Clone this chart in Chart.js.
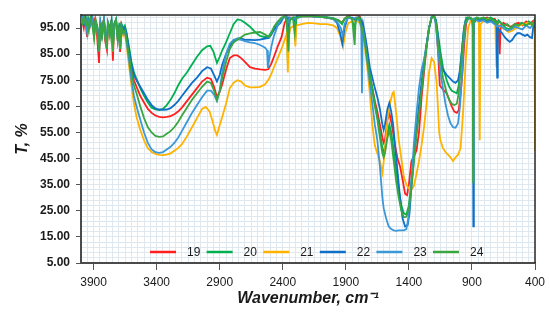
<!DOCTYPE html>
<html lang="en">
<head>
<meta charset="UTF-8">
<title>IR spectra 19-24</title>
<script src="https://cdn.jsdelivr.net/npm/chart.js"></script>
<style>
    html, body { margin: 0; padding: 0; background: #ffffff; }
    #wrap { width: 550px; height: 320px; }
</style>
</head>
<body>
<div id="wrap"><canvas id="ir" width="550" height="320"></canvas></div>
<script>
// sample labels and colours
const labels = ['19', '20', '21', '22', '23', '24'];
const colors = ['#ff1f1f', '#00b050', '#ffb300', '#0f6fc6', '#3a98d8', '#3aa640'];

// x tick labels (wavenumber, cm-1) and y tick labels (T, %)
const xTickLabels = [3900, 3400, 2900, 2400, 1900, 1400, 900, 400];
const yTickLabels = [5, 15, 25, 35, 45, 55, 65, 75, 85, 95];

// spectra: [wavenumber, T %]
const s19 = [[4000,99],[3990,97.5],[3978,95],[3968,99],[3952,91.6],[3944,98.5],[3930,96],[3918,99.5],[3905,95.5],[3892,98],[3875,93.5],[3857,81.6],[3849,96],[3836,92],[3822,98],[3808,90],[3794,86.5],[3784,97],[3772,93],[3760,98],[3747,82.5],[3738,96],[3724,98],[3710,91],[3698,96],[3690,85.8],[3680,96],[3668,94],[3655,95],[3640,92],[3620,85],[3600,79],[3580,75],[3560,72.5],[3530,69],[3500,66.5],[3470,64],[3440,62.5],[3410,61.5],[3380,61],[3350,60.8],[3320,61],[3290,61.3],[3260,62],[3230,63],[3200,64.5],[3160,67],[3120,69.5],[3080,72],[3040,74.5],[3000,76],[2970,75.5],[2945,72.5],[2922,68.6],[2900,70.5],[2880,73.5],[2850,79],[2820,83.5],[2790,84.5],[2760,84.5],[2730,83.5],[2700,82],[2660,80],[2620,79.5],[2580,79.2],[2540,79],[2515,79.2],[2490,81.5],[2470,84],[2440,88],[2410,91.5],[2385,97],[2368,98.5],[2358,94],[2348,99],[2320,99],[2300,97.5],[2290,99.5],[2250,99.5],[2200,99.6],[2150,99.4],[2100,99.3],[2050,99],[2000,98.5],[1960,98],[1930,97],[1910,98.5],[1880,99.8],[1850,100],[1820,100],[1790,99.5],[1770,97],[1750,92],[1730,85],[1710,77],[1690,72],[1670,67],[1650,63],[1630,58],[1610,53],[1600,51],[1590,52],[1570,60],[1555,62.5],[1540,59],[1525,55],[1510,50],[1490,45],[1470,42],[1450,37],[1430,31.5],[1415,31],[1400,35],[1380,44],[1360,46],[1340,48],[1320,55],[1300,68],[1280,78],[1260,88],[1240,95],[1220,99],[1200,99.5],[1185,97],[1170,87],[1155,73],[1130,71.5],[1100,70],[1080,67.5],[1060,65],[1040,63],[1020,62.5],[1005,63.5],[990,70],[975,78],[960,90],[945,97],[930,99],[910,98.5],[895,97],[890,93],[885,97.5],[860,98.5],[840,98],[810,98.5],[780,99],[750,98],[720,98.5],[700,97],[690,95],[680,85],[672,96],[650,97],[620,96],[590,95.5],[560,96.5],[530,97],[500,96],[470,97.5],[440,96.5],[420,97.5],[405,98],[400,97]];

const s20 = [[4000,98],[3988,99.5],[3975,97],[3962,99],[3950,95],[3938,98.5],[3925,96.5],[3910,99],[3896,94],[3884,98],[3870,95.5],[3856,90],[3846,97.5],[3832,94],[3818,98.5],[3804,92],[3795,89],[3786,97],[3770,94.5],[3758,98],[3747,88],[3738,96.5],[3722,98.5],[3708,92.5],[3695,97],[3688,90],[3678,96.5],[3665,95],[3652,96],[3640,93.5],[3620,88],[3600,82],[3580,78],[3560,75.5],[3530,72],[3500,69],[3470,66.5],[3440,64.5],[3410,63.8],[3380,63.6],[3350,64],[3320,65.5],[3290,67.5],[3260,70],[3230,73],[3200,75.5],[3160,78],[3120,81],[3080,84],[3040,86.5],[3000,88],[2975,88.2],[2950,86],[2922,81.6],[2900,84],[2880,86.5],[2850,89.5],[2820,93],[2790,96.5],[2760,98.3],[2730,98],[2700,97],[2660,95.5],[2620,93.5],[2580,92],[2540,91.5],[2510,92],[2490,93.5],[2470,95],[2440,97],[2410,98.5],[2380,99.5],[2368,99],[2360,81.6],[2352,96],[2340,98.5],[2310,99],[2300,91],[2292,99],[2250,99.6],[2200,99.7],[2150,99.5],[2100,99.4],[2050,99.2],[2000,98.8],[1960,98],[1930,96.5],[1910,98.5],[1880,99.5],[1850,98.5],[1830,95],[1815,99],[1790,99],[1770,96],[1750,91],[1730,84],[1710,77],[1690,72],[1670,66],[1650,61],[1630,55],[1610,49],[1600,47.5],[1590,49],[1570,55],[1555,58],[1540,55],[1520,48],[1500,40],[1480,33],[1460,27],[1440,24],[1420,23.5],[1400,27],[1380,36],[1360,46],[1340,56],[1320,64],[1300,72],[1280,80],[1260,88],[1240,95],[1220,99],[1200,99.5],[1185,98],[1170,93],[1150,86],[1130,80],[1100,75],[1080,72.5],[1060,71],[1040,70.5],[1020,70],[1005,73],[990,81],[975,89],[960,96],[945,99],[910,99],[895,97.5],[890,94],[885,98.5],[860,99],[840,98.5],[810,99],[780,98.5],[750,99],[720,98],[700,97],[690,98],[660,96.5],[630,95],[600,94.5],[570,96],[540,95.5],[510,97],[480,96],[450,97.5],[420,96.5],[405,97],[400,96]];

const s21 = [[4000,98.5],[3988,97],[3975,99],[3962,96],[3950,98.5],[3938,95],[3925,98],[3910,96.5],[3896,92],[3884,97.5],[3870,94],[3856,87.5],[3846,96.5],[3832,93],[3818,97.5],[3804,91],[3795,88],[3786,96],[3770,93],[3758,97],[3747,86],[3738,95],[3722,97.5],[3708,90],[3695,95.5],[3688,87],[3678,94],[3665,92],[3652,93],[3640,89],[3620,81],[3600,73],[3580,66],[3560,61],[3530,56],[3500,52],[3470,49],[3440,47.5],[3410,46.8],[3380,46.4],[3350,46.3],[3320,46.5],[3290,47],[3260,48],[3230,49],[3200,50.5],[3160,53.5],[3120,57],[3080,60.5],[3040,64],[3010,64.8],[2980,63],[2955,59],[2935,55.5],[2922,54],[2905,57],[2882,60.6],[2850,66],[2820,72],[2790,74],[2760,75],[2730,74.5],[2700,73],[2660,72.3],[2620,72.3],[2580,72.5],[2540,73.5],[2510,75.5],[2490,77.5],[2470,80],[2440,83.5],[2410,87],[2385,90.5],[2368,93],[2360,78],[2352,92],[2340,95],[2310,96],[2300,88],[2292,96],[2250,96.5],[2200,97],[2150,96.8],[2100,96.5],[2050,96.5],[2000,96],[1970,95],[1945,92],[1922,87.8],[1905,93],[1880,97],[1850,97.5],[1820,98],[1790,97],[1770,93],[1750,88],[1730,80],[1710,70],[1690,58],[1670,50],[1650,47],[1630,44],[1610,39.5],[1590,48],[1570,60],[1550,66],[1530,70],[1520,70.5],[1500,62],[1480,52],[1460,45],[1440,38],[1420,35],[1400,33.5],[1380,33],[1360,34.5],[1340,39],[1320,44],[1300,50],[1280,57],[1260,66],[1240,78],[1220,83.5],[1200,82],[1180,74],[1170,65],[1160,55],[1150,52],[1130,49],[1110,47.5],[1090,46.5],[1070,45.5],[1050,44],[1030,45.5],[1010,46.5],[990,49],[970,63],[950,82],[930,95],[910,98],[895,97],[885,98],[860,98],[845,97],[838,52],[832,96.5],[800,98],[770,98.5],[740,97.5],[715,96.5],[706,80],[698,96],[670,95.5],[640,94.5],[610,93.5],[580,94],[550,95],[520,96],[490,96.5],[460,97],[430,96.5],[410,97],[403,95],[400,48]];

const s22 = [[4000,98],[3988,99],[3975,96.5],[3962,98.5],[3950,94],[3938,98],[3925,97],[3910,99],[3896,93],[3884,97.5],[3870,95],[3856,88],[3846,97],[3832,93.5],[3818,98],[3804,91.5],[3795,90],[3786,97],[3770,94],[3758,97.5],[3747,88],[3738,96],[3722,98],[3708,91],[3695,96],[3688,89],[3678,96],[3665,94.5],[3652,95],[3640,93],[3620,87],[3600,81],[3580,77],[3560,75],[3530,72.5],[3500,70],[3470,67.5],[3440,65.5],[3410,64.2],[3380,63.8],[3350,63.7],[3320,63.8],[3290,64.3],[3260,65.5],[3230,67],[3200,69],[3160,71.5],[3120,74],[3080,76],[3040,78.5],[3000,80],[2970,79.5],[2945,77],[2922,74.5],[2900,77],[2880,81],[2850,85],[2820,88],[2790,90],[2760,91],[2730,91],[2700,90.5],[2660,90.5],[2620,90.4],[2580,90.6],[2540,91],[2510,91.2],[2490,92.5],[2470,94.3],[2440,96],[2420,96.9],[2395,99],[2370,99.5],[2360,95],[2350,99],[2300,98],[2290,99.5],[2250,99.6],[2200,99.7],[2150,99.5],[2100,99.3],[2050,99],[2000,98.5],[1970,97],[1945,93],[1928,89],[1910,95],[1885,99],[1850,99],[1820,98],[1800,99],[1780,97],[1772,95],[1765,97],[1750,93],[1730,87],[1710,80],[1690,76],[1670,72],[1650,68.5],[1630,64],[1610,58],[1600,56],[1590,58],[1570,64],[1555,66.3],[1540,63],[1525,58],[1510,50],[1490,40],[1470,30],[1450,22],[1430,19],[1410,19.5],[1395,24],[1380,34],[1360,45],[1340,55],[1320,65],[1300,74],[1280,82],[1260,89],[1240,95],[1220,99],[1200,99.5],[1185,98],[1170,92],[1150,82],[1130,79],[1100,77],[1070,75.5],[1050,74.5],[1030,74],[1010,75],[995,79],[980,86],[965,94],[950,98],[920,99],[900,98],[893,97],[889,19],[885,97],[860,98.5],[840,98],[810,98.5],[780,97.5],[750,98],[720,97],[705,96],[700,76],[695,95],[680,94],[660,93],[640,91.5],[620,90.5],[600,89.7],[580,90.5],[560,92],[540,93],[520,93],[500,92.5],[480,92],[460,92.5],[440,91.5],[424,91.2],[415,95],[405,97],[400,96]];

const s23 = [[4000,97.5],[3988,99],[3975,97],[3962,98],[3950,93],[3938,97.5],[3925,96],[3910,98.5],[3896,92],[3884,97],[3870,94.5],[3856,86],[3846,96.5],[3832,92.5],[3818,97.5],[3804,90.5],[3795,88.5],[3786,96.5],[3770,93],[3758,97],[3747,87],[3738,95.5],[3722,97.5],[3708,90],[3695,95],[3688,88],[3678,95],[3665,93],[3652,93.5],[3640,90],[3620,83],[3600,75],[3580,69],[3560,65],[3530,60],[3500,55],[3470,51],[3440,48.5],[3410,47.5],[3380,47.2],[3350,47.5],[3320,48.5],[3290,49.5],[3260,51],[3230,53],[3200,55.5],[3160,59],[3120,62.5],[3080,65.5],[3040,68.5],[3000,71],[2970,71],[2945,69.5],[2922,67],[2900,71],[2880,78],[2850,85],[2820,89],[2790,90.5],[2760,90.8],[2730,90.5],[2700,90],[2660,89.5],[2620,89.2],[2580,88.5],[2540,87.5],[2525,86.5],[2518,79.7],[2505,84],[2490,88],[2470,92],[2440,96],[2410,98.5],[2380,99.5],[2360,97],[2345,99],[2300,98.5],[2250,99.5],[2200,99.6],[2150,99.4],[2100,99.3],[2050,99],[2000,98.5],[1970,97.5],[1940,95],[1925,92],[1910,96.5],[1880,99],[1850,98.5],[1820,99],[1795,98],[1778,96],[1772,70],[1766,95],[1750,90],[1730,82],[1710,74],[1690,66],[1670,58],[1650,52],[1630,42],[1610,30],[1600,26],[1580,22],[1560,19],[1540,18],[1520,17.5],[1500,17.3],[1480,17.5],[1460,17.5],[1440,17.5],[1420,18],[1405,22],[1390,30],[1375,40],[1360,51],[1340,62],[1320,72],[1300,79],[1280,83],[1260,88],[1240,95],[1220,99.5],[1200,99.5],[1185,96],[1170,87],[1150,78],[1130,72],[1110,66],[1090,61.5],[1070,58.5],[1050,57],[1030,56.8],[1010,58.5],[995,65],[980,76],[965,90],[950,97],[920,99],[895,98],[890,94],[885,98.5],[860,98],[840,97.5],[810,98],[780,97],[750,97.5],[720,96.5],[700,95.5],[680,96],[650,95],[620,94],[590,94.5],[560,95.5],[530,95],[500,94.5],[470,96],[440,95],[420,96],[405,97],[400,95]];

const s24 = [[4000,99],[3988,97],[3975,99.5],[3962,96],[3950,98],[3938,94],[3925,99],[3910,96],[3896,91],[3884,98],[3870,94],[3856,86],[3846,97],[3832,92],[3818,98],[3804,90],[3795,87],[3786,97.5],[3770,92],[3758,98],[3747,86],[3738,96.5],[3722,98],[3708,90],[3695,96],[3688,87],[3678,95.5],[3665,93],[3652,94],[3640,91],[3620,85],[3600,78],[3580,73],[3560,70],[3530,65],[3500,60.5],[3470,57],[3440,55],[3410,53.7],[3380,53.3],[3350,53.5],[3320,54.5],[3290,55.5],[3260,57],[3230,59],[3200,61.5],[3160,64.5],[3120,67.5],[3080,70],[3040,72.5],[3000,74.5],[2970,74],[2945,71],[2922,67.5],[2900,71],[2880,76],[2850,82],[2820,87],[2790,89.5],[2760,90.5],[2730,91.5],[2700,92.5],[2660,93],[2620,93.3],[2580,93.5],[2540,92.5],[2510,91.5],[2490,93],[2470,95.5],[2440,97.5],[2410,99],[2380,99.5],[2365,96],[2355,86],[2345,98],[2320,99],[2305,93],[2295,99],[2250,99.5],[2200,99.6],[2150,99.5],[2100,99.3],[2050,99],[2000,98.6],[1960,98],[1930,97],[1910,98.5],[1880,99.5],[1850,98.5],[1830,88.5],[1822,98.5],[1800,99],[1790,98],[1770,95],[1750,90],[1730,83],[1710,76],[1690,71],[1670,65],[1650,60],[1630,53],[1610,47],[1600,45.5],[1590,47],[1570,53],[1555,56],[1540,52],[1520,44],[1500,36],[1480,30],[1460,25],[1440,22.5],[1420,22.7],[1400,26],[1380,34],[1360,44],[1340,54],[1320,62],[1300,71],[1280,80],[1260,88],[1240,95],[1220,99],[1200,100],[1185,97],[1170,90],[1150,83],[1130,76],[1100,70],[1080,67.5],[1060,66],[1040,65.5],[1020,66],[1005,70],[990,79],[975,87],[960,95],[945,98],[920,99],[900,98.5],[894,97],[891,36],[888,97],[860,99],[840,98.5],[810,99],[780,98],[750,98.5],[720,97.5],[700,96.5],[680,97.5],[650,96],[620,96.5],[590,95],[560,96.5],[530,96],[500,97],[470,96],[440,97],[420,96],[405,98],[400,97]];

const spectra = [s19, s20, s21, s22, s23, s24];

const FONT = '"Liberation Sans", Arial, sans-serif';
Chart.defaults.font.family = FONT;

// top + right frame and the in-plot legend
const framePlugin = {
    id: 'frame',
    afterDatasetsDraw(chart) {
        const ctx = chart.ctx;
        const a = chart.chartArea;
        ctx.save();
        ctx.strokeStyle = '#2b2b2b';
        ctx.lineWidth = 1.5;
        ctx.beginPath();
        ctx.moveTo(a.left, a.top);
        ctx.lineTo(a.right, a.top);
        ctx.lineTo(a.right, a.bottom);
        ctx.stroke();

        ctx.font = '12px ' + FONT;
        ctx.textBaseline = 'middle';
        ctx.fillStyle = '#1a1a1a';
        let x = a.left + 69;
        const y = a.bottom - 11;
        chart.data.datasets.forEach(ds => {
            ctx.strokeStyle = ds.borderColor;
            ctx.lineWidth = 2.5;
            ctx.beginPath();
            ctx.moveTo(x, y);
            ctx.lineTo(x + 26, y);
            ctx.stroke();
            ctx.fillText(ds.label, x + 37, y + 1);
            x += 56.6;
        });
        ctx.restore();
    }
};

const gridColor = '#dfe8ee';
const isMajorX = v => xTickLabels.includes(v);
const isMajorY = v => yTickLabels.includes(v);

new Chart(document.getElementById('ir'), {
    type: 'line',
    data: {
        datasets: labels.map((lab, i) => ({
            label: lab,
            data: spectra[i].map(p => ({ x: p[0], y: p[1] })),
            borderColor: colors[i],
            backgroundColor: colors[i],
            borderWidth: 1.8,
            pointRadius: 0,
            tension: 0,
            order: labels.length - 1 - i
        }))
    },
    options: {
        responsive: false,
        animation: false,
        layout: { padding: { top: 15, right: 15, left: 0, bottom: 0 } },
        plugins: { legend: { display: false }, tooltip: { enabled: false } },
        scales: {
            x: {
                type: 'linear',
                reverse: true,
                min: 400,
                max: 4000,
                afterBuildTicks: s => {
                    s.ticks = [];
                    for (let v = 400; v <= 4000; v += 50) s.ticks.push({ value: v });
                },
                afterFit: s => { s.height = 57; },
                ticks: {
                    autoSkip: false,
                    maxRotation: 0,
                    padding: 5,
                    color: '#1a1a1a',
                    font: { size: 12 },
                    callback: v => isMajorX(v) ? String(v) : ''
                },
                grid: {
                    color: gridColor,
                    lineWidth: 1,
                    tickLength: 7,
                    tickColor: c => (c.tick && isMajorX(c.tick.value)) ? '#555555' : 'rgba(0,0,0,0)'
                },
                border: { color: '#4a4a4a', width: 2 },
                title: {
                    display: true,
                    text: 'Wavenumber, cm⁻¹',
                    color: '#1a1a1a',
                    font: { size: 16, weight: 'bold', style: 'italic' },
                    padding: { top: 0, bottom: 12 }
                }
            },
            y: {
                type: 'linear',
                min: 5,
                max: 100,
                afterBuildTicks: s => {
                    s.ticks = [];
                    for (let v = 5; v < 100; v += 2) s.ticks.push({ value: v });
                    s.ticks.push({ value: 100 });
                },
                afterFit: s => { s.width = 81; },
                ticks: {
                    autoSkip: false,
                    padding: 6,
                    color: '#1a1a1a',
                    font: { size: 12, weight: 'bold' },
                    callback: v => isMajorY(v) ? v.toFixed(2) : ''
                },
                grid: {
                    color: gridColor,
                    lineWidth: 1,
                    tickLength: 5,
                    tickColor: c => (c.tick && isMajorY(c.tick.value)) ? '#555555' : 'rgba(0,0,0,0)'
                },
                border: { color: '#4a4a4a', width: 2 },
                title: {
                    display: true,
                    text: 'T, %',
                    color: '#1a1a1a',
                    font: { size: 16, weight: 'bold', style: 'italic' },
                    padding: { top: 13, bottom: 0 }
                }
            }
        }
    },
    plugins: [framePlugin]
});
</script>
</body>
</html>
